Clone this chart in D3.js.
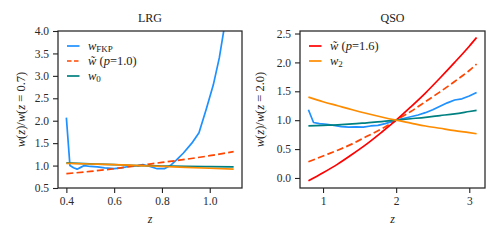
<!DOCTYPE html>
<html>
<head>
<meta charset="utf-8">
<script src="https://cdn.jsdelivr.net/npm/d3@7"></script>
<style>
  body { margin: 0; background: #fff; }
  svg { display: block; font-family: "Liberation Serif", "DejaVu Serif", serif; }
  .tick line { stroke: #222; stroke-width: 1.1; }
</style>
</head>
<body>
<div id="chart"></div>
<script>

// DATA

// LRG panel
const lrgFkpZ = [0.400, 0.415, 0.430, 0.445, 0.460, 0.475, 0.500, 0.530, 0.560, 0.600, 0.630, 0.660, 0.700, 0.720, 0.750, 0.780, 0.810, 0.835, 0.860, 0.890, 0.925, 0.955, 0.985, 1.015, 1.040, 1.060, 1.080];
const lrgFkp  = [2.07, 1.00, 0.95, 0.92, 0.96, 1.00, 0.98, 0.97, 0.95, 0.93, 0.95, 0.98, 1.00, 1.02, 0.98, 0.93, 0.93, 1.00, 1.12, 1.28, 1.50, 1.73, 2.25, 2.80, 3.40, 4.05, 4.80];
const lrgZ     = [0.4, 0.5, 0.6, 0.7, 0.8, 0.9, 1.0, 1.1];
const lrgTilde = [0.82, 0.87, 0.93, 1.00, 1.07, 1.14, 1.22, 1.31];
const lrgW0    = [1.06, 1.04, 1.02, 1.00, 0.99, 0.98, 0.975, 0.97];
const lrgW2    = [1.05, 1.035, 1.02, 1.00, 0.98, 0.96, 0.94, 0.92];

// QSO panel
const qsoFkpZ = [0.80, 0.87, 0.95, 1.05, 1.15, 1.25, 1.35, 1.45, 1.55, 1.65, 1.75, 1.85, 1.95, 2.00, 2.10, 2.20, 2.30, 2.40, 2.50, 2.60, 2.70, 2.80, 2.90, 3.00, 3.10];
const qsoFkp  = [1.18, 0.96, 0.94, 0.93, 0.91, 0.89, 0.88, 0.885, 0.88, 0.90, 0.91, 0.94, 0.98, 1.00, 1.03, 1.06, 1.09, 1.13, 1.18, 1.24, 1.30, 1.35, 1.37, 1.42, 1.48];
const qsoZ       = [0.8, 1.0, 1.2, 1.4, 1.6, 1.8, 2.0, 2.2, 2.4, 2.6, 2.8, 3.0, 3.1];
const qsoTilde16 = [-0.05, 0.09, 0.24, 0.41, 0.59, 0.79, 1.00, 1.23, 1.47, 1.73, 2.00, 2.28, 2.43];
const qsoTilde10 = [0.28, 0.38, 0.48, 0.59, 0.72, 0.85, 1.00, 1.15, 1.32, 1.49, 1.67, 1.86, 1.97];
const qsoW0      = [0.90, 0.91, 0.92, 0.935, 0.955, 0.975, 1.00, 1.025, 1.05, 1.08, 1.11, 1.15, 1.17];
const qsoW2      = [1.40, 1.32, 1.25, 1.18, 1.115, 1.055, 1.00, 0.95, 0.90, 0.86, 0.82, 0.785, 0.765];

const lrgXTicks = [0.4, 0.6, 0.8, 1.0];
const lrgYTicks = [0.5, 1.0, 1.5, 2.0, 2.5, 3.0, 3.5, 4.0];
const qsoXTicks = [1, 2, 3];
const qsoYTicks = [0.0, 0.5, 1.0, 1.5, 2.0, 2.5];

// COLOURS

const cFkp = "#1e90ff";
const cTilde = "#ff4500";
const cRed = "#ff0000";
const cW0 = "#008080";
const cW2 = "#ff8c00";

const serif = "'Liberation Serif', 'DejaVu Serif', serif";

// MAKE SVG CANVAS

const width = 500;
const height = 240;
const svg = d3.select("#chart")
    .append("svg")
    .attr("width", width)
    .attr("height", height);

function zip(xs, ys) {
    return xs.map(function(x, i) { return {x: x, y: ys[i]}; });
}

// PANEL

function drawPanel(p) {

    const xScale = d3.scaleLinear()
        .domain(p.xDomain)
        .range([p.left, p.right]);

    const yScale = d3.scaleLinear()
        .domain(p.yDomain)
        .range([p.bottom, p.top]);

    const clipId = "clip-" + p.name;
    svg.append("clipPath")
        .attr("id", clipId)
        .append("rect")
        .attr("x", p.left)
        .attr("y", p.top)
        .attr("width", p.right - p.left)
        .attr("height", p.bottom - p.top);

    // LINES

    const line = d3.line()
        .x(function(d) { return xScale(d.x); })
        .y(function(d) { return yScale(d.y); });

    const g = svg.append("g").attr("clip-path", "url(#" + clipId + ")");

    p.series.forEach(function(s) {
        g.append("path")
            .datum(zip(s.x, s.y))
            .attr("d", line.curve(s.smooth ? d3.curveMonotoneX : d3.curveLinear))
            .attr("fill", "none")
            .attr("stroke", s.color)
            .attr("stroke-width", 1.7)
            .attr("stroke-dasharray", s.dashed ? "7,3.2" : null)
            .attr("stroke-linejoin", "round");
    });

    // AXIS

    const xAxis = svg.append("g")
        .attr("transform", `translate(0, ${p.bottom})`)
        .call(d3.axisBottom(xScale).tickValues(p.xTicks).tickFormat(d3.format(p.xFormat))
            .tickSize(5).tickSizeOuter(0).tickPadding(4));

    const yAxis = svg.append("g")
        .attr("transform", `translate(${p.left}, 0)`)
        .call(d3.axisLeft(yScale).tickValues(p.yTicks).tickFormat(d3.format(".1f"))
            .tickSize(5).tickSizeOuter(0).tickPadding(4));

    [xAxis, yAxis].forEach(function(ax) {
        ax.select(".domain").remove();
        ax.selectAll("text")
            .style("font-family", serif)
            .style("font-size", "11.5px")
            .style("fill", "#2a2a2a");
    });

    svg.append("rect")
        .attr("x", p.left)
        .attr("y", p.top)
        .attr("width", p.right - p.left)
        .attr("height", p.bottom - p.top)
        .attr("fill", "none")
        .attr("stroke", "#262626")
        .attr("stroke-width", 1.25);

    // TITLE + LABELS

    svg.append("text")
        .attr("x", (p.left + p.right) / 2)
        .attr("y", 22)
        .attr("text-anchor", "middle")
        .attr("font-size", "12px")
        .attr("fill", "#222")
        .text(p.name);

    svg.append("text")
        .attr("x", (p.left + p.right) / 2)
        .attr("y", 223)
        .attr("text-anchor", "middle")
        .attr("font-size", "12px")
        .attr("font-style", "italic")
        .attr("fill", "#222")
        .text("z");

    const yLabel = svg.append("text")
        .attr("transform", "rotate(-90)")
        .attr("x", -(p.top + p.bottom) / 2)
        .attr("y", p.left - p.yLabelOffset)
        .attr("text-anchor", "middle")
        .attr("font-size", "12.5px")
        .attr("fill", "#222");
    yLabel.append("tspan").attr("font-style", "italic").text("w");
    yLabel.append("tspan").text("(");
    yLabel.append("tspan").attr("font-style", "italic").text("z");
    yLabel.append("tspan").text(")/");
    yLabel.append("tspan").attr("font-style", "italic").text("w");
    yLabel.append("tspan").text("(");
    yLabel.append("tspan").attr("font-style", "italic").text("z");
    yLabel.append("tspan").text(" = " + p.zRef + ")");

    // LEGEND

    p.legend.forEach(function(s, i) {
        const ly = 46 + i * 15;
        svg.append("line")
            .attr("x1", p.left + 9)
            .attr("x2", p.left + 21.5)
            .attr("y1", ly)
            .attr("y2", ly)
            .attr("stroke", s.color)
            .attr("stroke-width", 1.7)
            .attr("stroke-dasharray", s.dashed ? "4.5,2.5" : null);

        const t = svg.append("text")
            .attr("x", p.left + 30)
            .attr("y", ly + 3.5)
            .attr("font-size", "12.5px")
            .attr("fill", "#222");
        s.label(t);
    });
}

function labelFkp(t) {
    t.append("tspan").attr("font-style", "italic").text("w");
    t.append("tspan").attr("font-size", "9px").attr("dy", 2.5).text("FKP");
}
function labelTilde(pv) {
    return function(t) {
        t.append("tspan").attr("font-style", "italic").text("w\u0303");
        t.append("tspan").text(" (");
        t.append("tspan").attr("font-style", "italic").text("p");
        t.append("tspan").text("=" + pv + ")");
    };
}
function labelSub(sub) {
    return function(t) {
        t.append("tspan").attr("font-style", "italic").text("w");
        t.append("tspan").attr("font-size", "9px").attr("dy", 2.5).text(sub);
    };
}

drawPanel({
    name: "LRG",
    left: 58, right: 242, top: 31, bottom: 188,
    xDomain: [0.365, 1.135],
    yDomain: [0.5, 4.0],
    xTicks: lrgXTicks, yTicks: lrgYTicks, xFormat: ".1f",
    zRef: "0.7", yLabelOffset: 33,
    series: [
        {x: lrgFkpZ, y: lrgFkp, color: cFkp},
        {x: lrgZ, y: lrgTilde, color: cTilde, dashed: true, smooth: true},
        {x: lrgZ, y: lrgW0, color: cW0, smooth: true},
        {x: lrgZ, y: lrgW2, color: cW2, smooth: true}
    ],
    legend: [
        {color: cFkp, label: labelFkp},
        {color: cTilde, dashed: true, label: labelTilde("1.0")},
        {color: cW0, label: labelSub("0")}
    ]
});

drawPanel({
    name: "QSO",
    left: 300, right: 485, top: 31, bottom: 188,
    xDomain: [0.685, 3.215],
    yDomain: [-0.1735, 2.5435],
    xTicks: qsoXTicks, yTicks: qsoYTicks, xFormat: "d",
    zRef: "2.0", yLabelOffset: 36,
    series: [
        {x: qsoFkpZ, y: qsoFkp, color: cFkp},
        {x: qsoZ, y: qsoTilde10, color: cTilde, dashed: true, smooth: true},
        {x: qsoZ, y: qsoTilde16, color: cRed, smooth: true},
        {x: qsoZ, y: qsoW0, color: cW0, smooth: true},
        {x: qsoZ, y: qsoW2, color: cW2, smooth: true}
    ],
    legend: [
        {color: cRed, label: labelTilde("1.6")},
        {color: cW2, label: labelSub("2")}
    ]
});

</script>
</body>
</html>
